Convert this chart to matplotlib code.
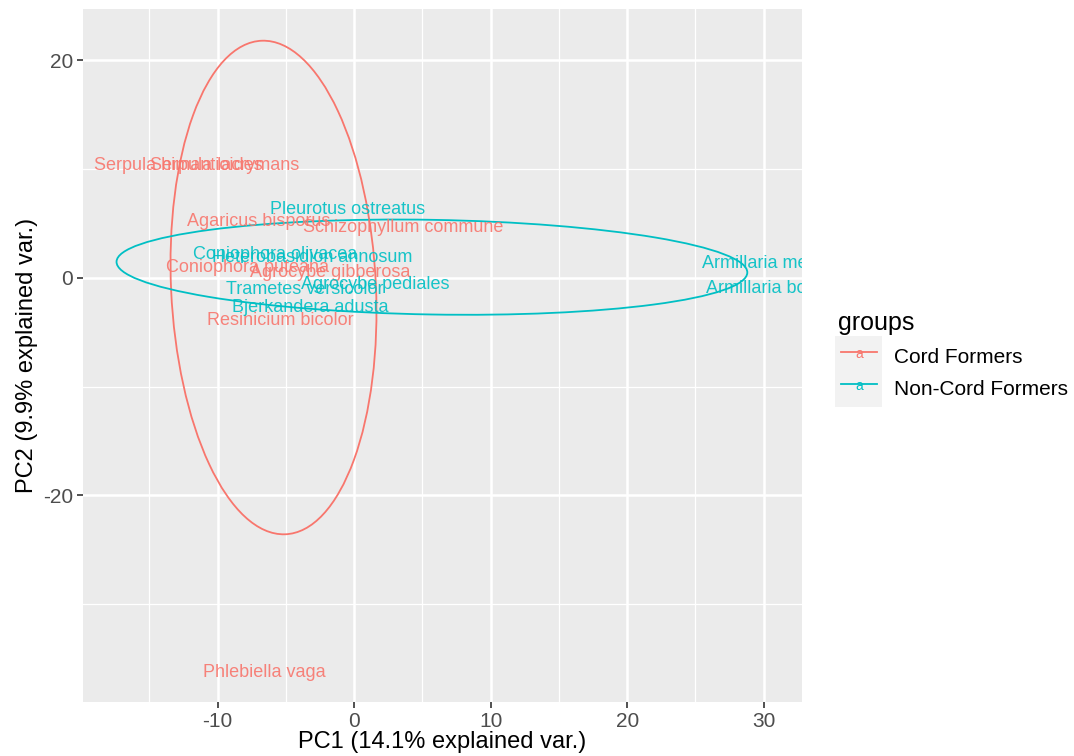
import matplotlib
matplotlib.use("Agg")
import matplotlib.pyplot as plt
from matplotlib.patches import Ellipse, Rectangle
from matplotlib.lines import Line2D
from matplotlib.legend_handler import HandlerBase
from matplotlib.text import Text

plt.rcParams['font.family'] = ['Liberation Sans', 'DejaVu Sans']
plt.rcParams['axes.unicode_minus'] = False

# ---- data ----
cord_names = ["Serpula himantioides", "Serpula lacrymans", "Agaricus bisporus",
              "Schizophyllum commune", "Coniophora puteana", "Agrocybe gibberosa",
              "Resinicium bicolor", "Phlebiella vaga"]
cord_pc1 = [-12.9, -9.5, -7.0, 3.6, -7.8, -1.75, -5.4, -6.6]
cord_pc2 = [10.3, 10.3, 5.15, 4.6, 0.9, 0.45, -3.95, -36.3]

non_names = ["Pleurotus ostreatus", "Coniophora olivacea", "Heterobasidion annosum",
             "Agrocybe pediales", "Trametes versicolor", "Bjerkandera adusta",
             "Armillaria mellea", "Armillaria borealis"]
non_pc1 = [-0.5, -5.8, -3.1, 1.55, -3.6, -3.2, 30.4, 31.0]
non_pc2 = [6.25, 2.1, 1.9, -0.65, -1.1, -2.75, 1.3, -1.0]

# ellipse parameters: center x, center y, full major, full minor, angle (deg)
cord_ellipse = [-5.9, -0.9, 45.4, 15.0, 92.1]
non_ellipse = [5.7, 0.97, 46.2, 8.7, -1.25]

groups = ["Cord Formers", "Non-Cord Formers"]
colors = ["#F8766D", "#00BFC4"]

x_ticks = [-10, 0, 10, 20, 30]
y_ticks = [-20, 0, 20]
x_minor = [-15, -5, 5, 15, 25]
y_minor = [-30, -10, 10]

# ---- figure ----
fig = plt.figure(figsize=(10.74, 7.56), dpi=100)
ax = fig.add_axes([83/1074, 1-702/756, (802-83)/1074, (702-9)/756])
ax.set_facecolor("#EBEBEB")
ax.set_xlim(-19.85, 32.8)
ax.set_ylim(-39.0, 24.7)

for v in x_minor:
    ax.axvline(v, color="white", lw=0.9, zorder=0.5)
for v in y_minor:
    ax.axhline(v, color="white", lw=0.9, zorder=0.5)
for v in x_ticks:
    ax.axvline(v, color="white", lw=1.8, zorder=0.6)
for v in y_ticks:
    ax.axhline(v, color="white", lw=1.8, zorder=0.6)

for s in ax.spines.values():
    s.set_visible(False)

ax.set_xticks(x_ticks)
ax.set_yticks(y_ticks)
ax.tick_params(axis="both", length=4, width=1.2, color="#333333",
               labelcolor="#4D4D4D", labelsize=15, pad=3)

ax.set_xlabel("PC1 (14.1% explained var.)", fontsize=17, color="black", labelpad=0)
ax.set_ylabel("PC2 (9.9% explained var.)", fontsize=17, color="black", labelpad=4)

for params, col in [(cord_ellipse, colors[0]), (non_ellipse, colors[1])]:
    e = Ellipse((params[0], params[1]), params[2], params[3], angle=params[4],
                fill=False, edgecolor=col, lw=1.3, zorder=2)
    ax.add_patch(e)

for names, xs, ys, col in [(cord_names, cord_pc1, cord_pc2, colors[0]),
                           (non_names, non_pc1, non_pc2, colors[1])]:
    for n, x, y in zip(names, xs, ys):
        ax.text(x, y, n, color=col, fontsize=13, ha="center", va="center",
                clip_on=True, zorder=3, alpha=0.9)


class KeyHandler(HandlerBase):
    def __init__(self, color):
        super().__init__()
        self.color = color

    def create_artists(self, legend, orig_handle, xdescent, ydescent, width,
                       height, fontsize, trans):
        bg = Rectangle((-xdescent - 2, -ydescent - 6), width + 4, height + 12,
                       facecolor="#F2F2F2", edgecolor="none", transform=trans)
        ln = Line2D([-xdescent + 2, -xdescent + width - 2],
                    [height / 2 - ydescent + 3, height / 2 - ydescent + 3],
                    color=self.color, lw=1.3, transform=trans)
        tx = Text(-xdescent + width / 2, height / 2 - ydescent + 1, "a",
                  color=self.color, fontsize=10, ha="center", va="center",
                  transform=trans)
        return [bg, ln, tx]


handles = [Line2D([], [], color=c) for c in colors]
hmap = {h: KeyHandler(c) for h, c in zip(handles, colors)}
leg = ax.legend(handles, groups, handler_map=hmap, title="groups",
                loc="upper left", bbox_to_anchor=(838/1074, 1-311/756),
                bbox_transform=fig.transFigure, frameon=False, fontsize=15,
                title_fontsize=18, handlelength=2.0, handleheight=1.3,
                handletextpad=0.7, labelspacing=0.45, borderaxespad=0,
                borderpad=0)
leg._legend_box.align = "left"

fig.savefig("out.png", dpi=100)
